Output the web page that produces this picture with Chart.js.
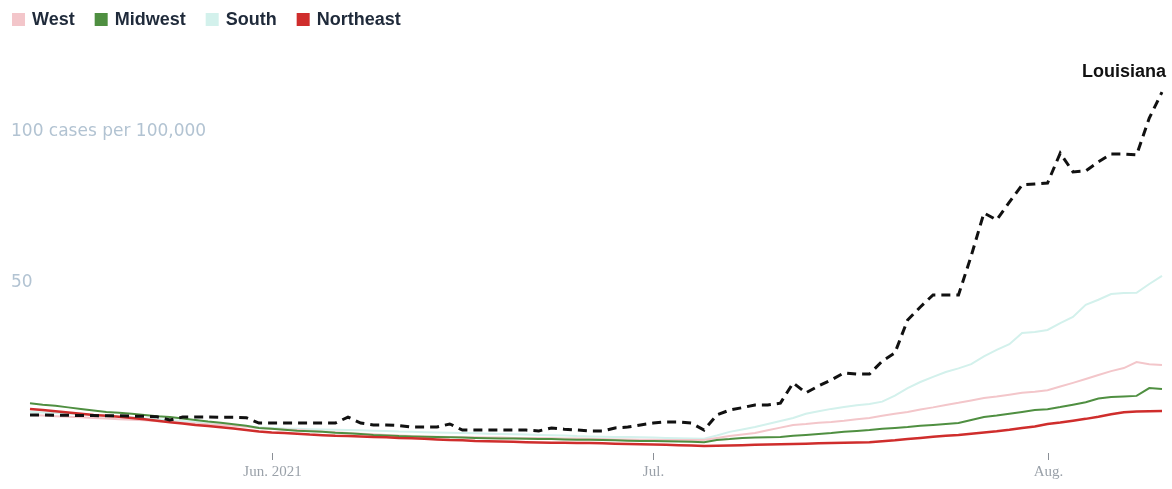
<!DOCTYPE html>
<html>
<head>
<meta charset="utf-8">
<script src="https://cdn.jsdelivr.net/npm/chart.js@4"></script>
<style>
  html, body { margin: 0; padding: 0; background: #ffffff; }
  #wrap { position: relative; width: 1172px; height: 489px; }
</style>
</head>
<body>
<div id="wrap"><canvas id="c"></canvas></div>
<script>
// ---- Data ----
const dates = [
  'May 13','May 14','May 15','May 16','May 17','May 18','May 19','May 20','May 21','May 22',
  'May 23','May 24','May 25','May 26','May 27','May 28','May 29','May 30','May 31',
  'Jun 1','Jun 2','Jun 3','Jun 4','Jun 5','Jun 6','Jun 7','Jun 8','Jun 9','Jun 10',
  'Jun 11','Jun 12','Jun 13','Jun 14','Jun 15','Jun 16','Jun 17','Jun 18','Jun 19','Jun 20',
  'Jun 21','Jun 22','Jun 23','Jun 24','Jun 25','Jun 26','Jun 27','Jun 28','Jun 29','Jun 30',
  'Jul 1','Jul 2','Jul 3','Jul 4','Jul 5','Jul 6','Jul 7','Jul 8','Jul 9','Jul 10',
  'Jul 11','Jul 12','Jul 13','Jul 14','Jul 15','Jul 16','Jul 17','Jul 18','Jul 19','Jul 20',
  'Jul 21','Jul 22','Jul 23','Jul 24','Jul 25','Jul 26','Jul 27','Jul 28','Jul 29','Jul 30','Jul 31',
  'Aug 1','Aug 2','Aug 3','Aug 4','Aug 5','Aug 6','Aug 7','Aug 8','Aug 9','Aug 10'
];

const west = [
  11.6,11.4,11.2,11.0,10.8,10.6,10.4,10.2,10.0,9.8,
  9.5,9.3,9.0,8.8,8.5,8.3,8.0,7.7,7.3,7.0,
  6.8,6.6,6.4,6.1,5.9,5.6,5.4,5.2,5.0,4.8,
  4.6,4.5,4.4,4.3,4.2,4.2,4.1,4.1,4.0,4.0,
  4.0,3.9,3.8,3.8,3.7,3.6,3.5,3.5,3.4,3.4,
  3.3,3.3,3.3,3.3,4.0,4.6,5.1,5.6,6.5,7.4,
  8.3,8.6,9.0,9.3,9.7,10.2,10.6,11.3,12.0,12.6,
  13.4,14.1,14.9,15.6,16.4,17.2,17.7,18.3,18.9,19.3,
  19.8,21.0,22.2,23.5,24.8,26.1,27.1,29.1,28.4,28.1
];

const midwest = [
  15.5,15.0,14.6,14.1,13.6,13.1,12.6,12.3,12.0,11.6,
  11.2,10.9,10.4,9.9,9.4,9.0,8.5,8.0,7.3,7.0,
  6.7,6.4,6.2,6.0,5.7,5.5,5.3,5.0,4.8,4.6,
  4.5,4.4,4.3,4.2,4.1,4.0,3.9,3.8,3.8,3.7,
  3.6,3.6,3.5,3.4,3.4,3.3,3.2,3.1,3.0,3.0,
  2.9,2.8,2.7,2.6,3.3,3.6,4.0,4.1,4.2,4.3,
  4.7,5.0,5.3,5.6,6.0,6.3,6.6,7.0,7.3,7.6,
  8.0,8.3,8.6,8.9,9.9,10.9,11.4,12.0,12.6,13.2,
  13.5,14.2,15.0,15.8,17.0,17.5,17.7,17.9,20.5,20.2
];

const south = [
  12.6,12.4,12.2,12.0,11.8,11.6,11.4,11.1,10.8,10.5,
  10.2,9.9,9.6,9.3,9.0,8.6,8.2,7.9,7.5,7.3,
  7.1,7.0,6.9,6.8,6.7,6.6,6.5,6.4,6.3,6.1,
  6.0,5.9,5.8,5.7,5.6,5.5,5.4,5.3,5.2,5.1,
  5.0,4.9,4.8,4.6,4.5,4.4,4.3,4.3,4.2,4.1,
  4.0,3.9,3.8,3.7,4.8,6.0,6.8,7.6,8.6,9.6,
  10.6,12.0,12.8,13.6,14.2,14.8,15.2,16.0,18.0,20.5,
  22.5,24.2,25.8,27.0,28.4,31.0,33.1,35.0,38.7,39.0,
  39.7,42.0,44.0,48.0,49.7,51.6,51.9,52.0,54.9,57.6
];

const northeast = [
  13.6,13.2,12.8,12.4,12.0,11.6,11.3,11.0,10.6,10.2,
  9.7,9.2,8.8,8.3,7.9,7.5,7.1,6.6,6.1,5.8,
  5.6,5.4,5.1,4.9,4.7,4.6,4.5,4.3,4.2,4.0,
  3.9,3.7,3.5,3.3,3.2,3.0,2.9,2.8,2.7,2.6,
  2.5,2.4,2.4,2.3,2.3,2.2,2.1,2.0,1.9,1.8,
  1.7,1.6,1.5,1.3,1.4,1.5,1.6,1.7,1.8,1.9,
  2.0,2.1,2.2,2.3,2.4,2.5,2.6,2.9,3.2,3.6,
  4.0,4.4,4.7,5.0,5.4,5.8,6.2,6.7,7.3,7.8,
  8.6,9.1,9.7,10.3,11.0,11.8,12.5,12.7,12.8,12.9
];

const louisiana = [
  11.6,11.6,11.5,11.5,11.4,11.4,11.3,11.3,11.2,11.2,
  11.0,9.9,10.9,10.9,10.9,10.8,10.8,10.7,8.9,8.9,
  8.9,8.9,8.9,8.9,8.9,10.9,8.9,8.3,8.3,8.1,
  7.6,7.6,7.6,8.6,6.6,6.6,6.6,6.6,6.6,6.6,
  6.3,7.3,6.9,6.6,6.3,6.3,7.3,7.6,8.3,8.9,
  9.3,9.3,8.9,6.6,11.6,13.2,14.0,14.9,14.9,15.5,
  22.2,18.9,21.2,23.2,25.5,25.1,25.1,29.4,32.1,43.0,
  47.3,51.3,51.3,51.3,64.2,78.4,76.1,82.0,87.7,88.0,
  88.3,98.2,92.0,92.3,95.3,97.9,97.9,97.6,109.8,118.4
];

const regionNames = ['West', 'Midwest', 'South', 'Northeast'];
const regionColors = ['#f3c6ca', '#4f8f41', '#d3f1ec', '#cf2d2c'];
const highlightName = 'Louisiana';

const yLabelValues = [100, 50];
const yLabelTexts = ['100 cases per 100,000', '50'];

const xTickDates = ['Jun 1', 'Jul 1', 'Aug 1'];
const xTickTexts = ['Jun. 2021', 'Jul.', 'Aug.'];

// ---- Plugins ----
const decorPlugin = {
  id: 'decor',
  afterDraw(chart) {
    const ctx = chart.ctx;
    const xs = chart.scales.x, ys = chart.scales.y;
    ctx.save();

    // Legend
    ctx.font = 'bold 18px "Liberation Sans", Arial, sans-serif';
    ctx.textBaseline = 'middle';
    ctx.textAlign = 'left';
    let lx = 12;
    regionNames.forEach((name, i) => {
      ctx.fillStyle = regionColors[i];
      ctx.fillRect(lx, 13, 13, 13);
      ctx.fillStyle = '#1f2a3a';
      ctx.fillText(name, lx + 20, 20);
      lx += 20 + ctx.measureText(name).width + 20;
    });

    // Y labels
    ctx.font = '17px "DejaVu Sans", sans-serif';
    ctx.fillStyle = '#b2c3d2';
    yLabelValues.forEach((v, i) => {
      ctx.fillText(yLabelTexts[i], 11, ys.getPixelForValue(v) - 16);
    });

    // X ticks
    ctx.strokeStyle = '#8a8f96';
    ctx.lineWidth = 1;
    ctx.fillStyle = '#9aa1a9';
    ctx.font = '15px "Liberation Serif", "DejaVu Serif", serif';
    ctx.textAlign = 'center';
    const base = ys.getPixelForValue(0);
    xTickDates.forEach((d, i) => {
      const px = Math.round(xs.getPixelForValue(dates.indexOf(d))) + 0.5;
      ctx.beginPath();
      ctx.moveTo(px, base + 3);
      ctx.lineTo(px, base + 10);
      ctx.stroke();
      ctx.fillText(xTickTexts[i], px, base + 22);
    });

    // Highlight label
    const meta = chart.getDatasetMeta(4);
    const last = meta.data[meta.data.length - 1];
    ctx.font = 'bold 18px "Liberation Sans", Arial, sans-serif';
    ctx.fillStyle = '#111111';
    ctx.textAlign = 'right';
    ctx.fillText(highlightName, last.x + 4, last.y - 20);

    ctx.restore();
  }
};

const ds = (label, data, color, width, order) => ({
  label, data, borderColor: color, backgroundColor: color,
  borderWidth: width, pointRadius: 0, tension: 0, fill: false, order
});

new Chart(document.getElementById('c'), {
  type: 'line',
  data: {
    labels: dates,
    datasets: [
      ds(regionNames[0], west, regionColors[0], 2, 4),
      ds(regionNames[1], midwest, regionColors[1], 2, 2),
      ds(regionNames[2], south, regionColors[2], 2, 5),
      ds(regionNames[3], northeast, regionColors[3], 2.5, 1),
      Object.assign(ds(highlightName, louisiana, '#111111', 3, 0), { borderDash: [9, 6] })
    ]
  },
  options: {
    responsive: true,
    maintainAspectRatio: false,
    animation: false,
    layout: { padding: { left: 30, right: 10, top: 57, bottom: 39 } },
    plugins: { legend: { display: false }, tooltip: { enabled: false } },
    scales: {
      x: { type: 'category', display: false, offset: false },
      y: { type: 'linear', display: false, min: 0, max: 130 }
    }
  },
  plugins: [decorPlugin]
});
</script>
</body>
</html>
